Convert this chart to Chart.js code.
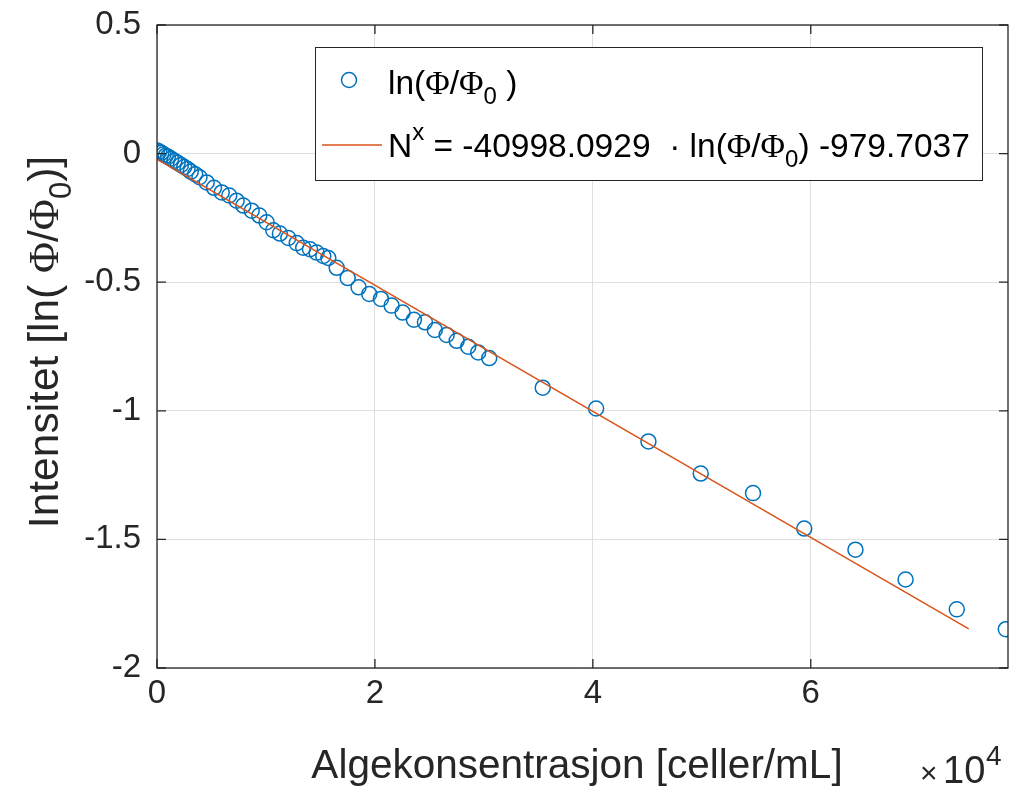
<!DOCTYPE html>
<html lang="no">
<head>
<meta charset="utf-8">
<title>Intensitet mot algekonsentrasjon</title>
<script src="https://cdn.jsdelivr.net/npm/chart.js"></script>
<style>
  body { margin: 0; background: #fff; }
  #graf { display: block; }
</style>
</head>
<body>
<canvas id="graf" width="1013" height="793"></canvas>
<script>
// målepunkter lest av figuren: konsentrasjon (celler/mL) og ln(Φ/Φ0)
const konsentrasjon = [
    0, 200, 400, 600, 800, 1000, 1300, 1600, 1900, 2200, 2500, 2800, 3100, 3500, 3900,
    4560, 5230, 5940, 6630, 7310, 7920, 8690, 9390, 10060, 10670, 11280, 12050, 12820,
    13420, 14040, 14650, 15260, 15720, 16490, 17500, 18500, 19480, 20550, 21530, 22540,
    23580, 24590, 25500, 26580, 27500, 28560, 29480, 30490,
    35400, 40300, 45100, 49900, 54700, 59400, 64100, 68700, 73400, 77900
];
const intensitet = [
    0.012, 0.008, 0.003, -0.003, -0.008, -0.012, -0.020, -0.028, -0.036, -0.044, -0.052, -0.060, -0.070, -0.080, -0.092,
    -0.112, -0.133, -0.151, -0.163, -0.183, -0.202, -0.222, -0.241, -0.267, -0.298, -0.311, -0.328, -0.348,
    -0.366, -0.372, -0.385, -0.398, -0.406, -0.444, -0.484, -0.520, -0.546, -0.565, -0.591, -0.618,
    -0.646, -0.656, -0.686, -0.705, -0.728, -0.751, -0.773, -0.795,
    -0.910, -0.991, -1.119, -1.244, -1.320, -1.458, -1.540, -1.656, -1.772, -1.849
];

// tilpasset linje (endepunkter lest av figuren)
const linjeX = [0, 74500];
const linjeY = [-0.022, -1.848];

const xTicks = [0, 20000, 40000, 60000];
const yTicks = [0.5, 0, -0.5, -1, -1.5, -2];

const SANS = '"Liberation Sans", Arial, Helvetica, sans-serif';
const SERIF = '"Liberation Serif", "Times New Roman", serif';
const MORK = '#262626';
const BLA = '#0072BD';
const ORANSJE = '#D95319';

// tegner tekst med Φ, senket og hevet skrift
function rikTekst(ctx, deler, x, y, str, midtstilt) {
    const font = (d) => {
        if (d[1] === 'p') return str + 'px ' + SERIF;
        if (d[1] === 'b' || d[1] === 'u') return Math.round(str * 0.72) + 'px ' + SANS;
        return str + 'px ' + SANS;
    };
    let total = 0;
    deler.forEach(d => { ctx.font = font(d); total += ctx.measureText(d[0]).width; });
    let px = midtstilt ? x - total / 2 : x;
    ctx.textAlign = 'left';
    ctx.textBaseline = 'alphabetic';
    deler.forEach(d => {
        ctx.font = font(d);
        let dy = 0;
        if (d[1] === 'b') dy = str * 0.3;
        if (d[1] === 'u') dy = -str * 0.5;
        ctx.fillText(d[0], px, y + dy);
        px += ctx.measureText(d[0]).width;
    });
}

const ramme = {
    id: 'ramme',
    afterDraw(chart) {
        const ctx = chart.ctx;
        const a = chart.chartArea;
        const sx = chart.scales.x, sy = chart.scales.y;
        ctx.save();
        ctx.strokeStyle = MORK;
        ctx.lineWidth = 1.3;
        ctx.strokeRect(a.left, a.top, a.right - a.left, a.bottom - a.top);

        // innovervendte tikkmerker på alle sider
        const tl = 9;
        ctx.beginPath();
        xTicks.forEach(v => {
            const p = sx.getPixelForValue(v);
            ctx.moveTo(p, a.bottom); ctx.lineTo(p, a.bottom - tl);
            ctx.moveTo(p, a.top); ctx.lineTo(p, a.top + tl);
        });
        yTicks.forEach(v => {
            const p = sy.getPixelForValue(v);
            ctx.moveTo(a.left, p); ctx.lineTo(a.left + tl, p);
            ctx.moveTo(a.right, p); ctx.lineTo(a.right - tl, p);
        });
        ctx.stroke();

        // tegnforklaring
        ctx.fillStyle = '#fff';
        ctx.fillRect(315, 47, 667, 133);
        ctx.lineWidth = 1;
        ctx.strokeStyle = MORK;
        ctx.strokeRect(315.5, 47.5, 667, 133);

        ctx.beginPath();
        ctx.arc(349, 80, 7.5, 0, Math.PI * 2);
        ctx.strokeStyle = BLA;
        ctx.lineWidth = 1.5;
        ctx.stroke();

        ctx.beginPath();
        ctx.moveTo(322, 145); ctx.lineTo(382, 145);
        ctx.strokeStyle = ORANSJE;
        ctx.stroke();

        ctx.fillStyle = '#000';
        rikTekst(ctx, [['ln(', 'n'], ['Φ', 'p'], ['/', 'n'], ['Φ', 'p'], ['0', 'b'], [' )', 'n']], 388, 94, 33.5, false);
        rikTekst(ctx, [['N', 'n'], ['x', 'u'], [' = -40998.0929  · ln(', 'n'], ['Φ', 'p'], ['/', 'n'], ['Φ', 'p'],
            ['0', 'b'], [') -979.7037', 'n']], 388, 157, 33.5, false);

        // aksetitler
        ctx.fillStyle = MORK;
        rikTekst(ctx, [['Algekonsentrasjon [celler/mL]', 'n']], 577, 778, 40.5, true);

        ctx.textAlign = 'left';
        ctx.textBaseline = 'alphabetic';
        ctx.font = '30px ' + SANS;
        ctx.fillText('×', 920, 783);
        ctx.font = '38px ' + SANS;
        ctx.fillText('10', 943, 783);
        ctx.font = '28px ' + SANS;
        ctx.fillText('4', 986, 765);

        ctx.translate(58, 342);
        ctx.rotate(-Math.PI / 2);
        rikTekst(ctx, [['Intensitet [ln( ', 'n'], ['Φ', 'p'], ['/', 'n'], ['Φ', 'p'], ['0', 'b'], [')]', 'n']], 0, 0, 42.5, true);
        ctx.restore();
    }
};

const punkter = konsentrasjon.map((x, i) => ({ x: x, y: intensitet[i] }));
const linje = linjeX.map((x, i) => ({ x: x, y: linjeY[i] }));

new Chart(document.getElementById('graf'), {
    type: 'scatter',
    data: {
        datasets: [
            {
                type: 'line',
                label: 'tilpasning',
                data: linje,
                borderColor: ORANSJE,
                borderWidth: 1.5,
                pointRadius: 0,
                fill: false,
                order: 0
            },
            {
                label: 'ln(Φ/Φ0)',
                data: punkter,
                pointRadius: 7.5,
                pointBorderWidth: 1.5,
                pointBorderColor: BLA,
                pointBackgroundColor: 'rgba(0,0,0,0)',
                order: 1
            }
        ]
    },
    options: {
        responsive: false,
        animation: false,
        events: [],
        layout: { autoPadding: false, padding: { top: 25, right: 5, left: 0, bottom: 0 } },
        plugins: { legend: { display: false }, tooltip: { enabled: false } },
        scales: {
            x: {
                type: 'linear',
                min: 0,
                max: 78100,
                afterFit: (s) => { s.height = 125; s.paddingLeft = 0; s.paddingRight = 0; },
                afterBuildTicks: (s) => { s.ticks = xTicks.map(v => ({ value: v })); },
                ticks: {
                    callback: (v) => String(v / 10000),
                    font: { size: 33, family: SANS },
                    color: MORK,
                    padding: 6,
                    maxRotation: 0
                },
                grid: { color: '#dfdfdf', drawTicks: false },
                border: { display: false }
            },
            y: {
                min: -2,
                max: 0.5,
                afterFit: (s) => { s.width = 157; s.paddingTop = 0; s.paddingBottom = 0; },
                afterBuildTicks: (s) => { s.ticks = yTicks.map(v => ({ value: v })); },
                ticks: {
                    callback: (v) => String(v),
                    font: { size: 33, family: SANS },
                    color: MORK,
                    padding: 16
                },
                grid: { color: '#dfdfdf', drawTicks: false },
                border: { display: false }
            }
        }
    },
    plugins: [ramme]
});
</script>
</body>
</html>
